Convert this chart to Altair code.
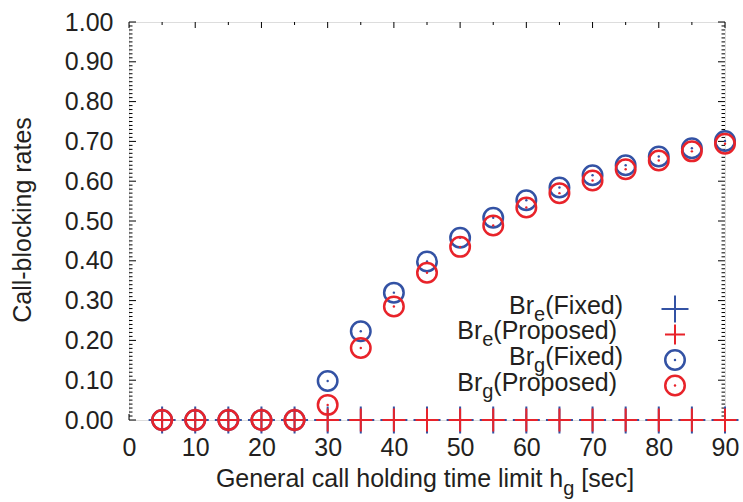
import altair as alt
import pandas as pd

# ---------------- data ----------------
hold_limit = [5, 10, 15, 20, 25, 30, 35, 40, 45, 50, 55, 60, 65, 70, 75, 80, 85, 90]
br_e_fixed = [0.00, 0.00, 0.00, 0.00, 0.00, 0.00, 0.00, 0.00, 0.00,
              0.00, 0.00, 0.00, 0.00, 0.00, 0.00, 0.00, 0.00, 0.00]
br_e_proposed = [0.00, 0.00, 0.00, 0.00, 0.00, 0.00, 0.00, 0.00, 0.00,
                 0.00, 0.00, 0.00, 0.00, 0.00, 0.00, 0.00, 0.00, 0.00]
br_g_fixed = [0.00, 0.00, 0.00, 0.00, 0.00, 0.098, 0.223, 0.320, 0.398,
              0.458, 0.508, 0.552, 0.584, 0.615, 0.640, 0.662, 0.683, 0.701]
br_g_proposed = [0.00, 0.00, 0.00, 0.00, 0.00, 0.038, 0.181, 0.285, 0.370,
                 0.435, 0.489, 0.534, 0.570, 0.602, 0.630, 0.652, 0.675, 0.694]

x_major_ticks = [0, 10, 20, 30, 40, 50, 60, 70, 80, 90]
x_minor_ticks = [5, 15, 25, 35, 45, 55, 65, 75, 85]
y_major_ticks = [0.0, 0.1, 0.2, 0.3, 0.4, 0.5, 0.6, 0.7, 0.8, 0.9, 1.0]
y_minor_ticks = [round(i / 100, 2) for i in range(1, 100) if i % 10 != 0]

legend_main = ["Br", "Br", "Br", "Br"]
legend_sub = ["e", "e", "g", "g"]
legend_rest = ["(Fixed)", "(Proposed)", "(Fixed)", "(Proposed)"]

# ---------------- style ----------------
BLUE = "#3352a4"
RED = "#e8232a"
TXT = "#231f20"
FONT = "Liberation Sans"
FS = 25
FS_SUB = 20
W, H = 596, 398
PLUS = "M-1,0L1,0M0,-1L0,1"

AW = {'B': 667, 'r': 333, 'e': 556, '(': 333, 'F': 611, 'i': 222, 'x': 500, 'd': 556,
      ')': 333, 'P': 667, 'o': 556, 'p': 556, 's': 500, '[': 278, ']': 278, 'c': 500,
      'g': 556, 'G': 778, 'n': 556, 'a': 556, 'l': 222, ' ': 278, 'h': 556, 't': 278,
      'm': 833}


def tw(s, size):
    return sum(AW[c] for c in s) * size / 1000.0


df = pd.DataFrame({"x": hold_limit, "bef": br_e_fixed, "bep": br_e_proposed,
                   "bgf": br_g_fixed, "bgp": br_g_proposed})

xs = alt.Scale(domain=[0, 90], nice=False, zero=False)
ys = alt.Scale(domain=[0, 1], nice=False, zero=False)

AX_X = alt.Axis(values=x_major_ticks, title="", ticks=False, domain=False, grid=False,
                labelPadding=15, labelFontSize=FS, labelFont=FONT, labelColor=TXT,
                labelFlush=False, labelOverlap=False)
AX_Y = alt.Axis(values=y_major_ticks, format=".2f", title="", ticks=False, domain=False,
                grid=False, labelPadding=16, labelFontSize=FS, labelFont=FONT,
                labelColor=TXT, labelFlush=False, labelOverlap=False)

X = alt.X("x:Q", scale=xs, axis=AX_X)


def pts(field, color, **kw):
    return alt.Chart(df).mark_point(color=color, **kw).encode(
        x=X, y=alt.Y(f"{field}:Q", scale=ys, axis=AX_Y))


xmaj = pd.DataFrame({"v": x_major_ticks})
xmin = pd.DataFrame({"v": x_minor_ticks})
ymaj = pd.DataFrame({"v": y_major_ticks})
ymin = pd.DataFrame({"v": y_minor_ticks})


def xt(d, ln):
    base = alt.Chart(d).mark_rule(color="#000", strokeWidth=1)
    xx = alt.X("v:Q", scale=xs, axis=AX_X)
    return (base.encode(x=xx, y=alt.value(H), y2=alt.value(H - ln)) +
            base.encode(x=xx, y=alt.value(0), y2=alt.value(ln)))


def yt(d, ln):
    base = alt.Chart(d).mark_rule(color="#000", strokeWidth=1)
    yy = alt.Y("v:Q", scale=ys, axis=AX_Y)
    return (base.encode(y=yy, x=alt.value(0), x2=alt.value(ln)) +
            base.encode(y=yy, x=alt.value(W), x2=alt.value(W - ln)))


ticks = xt(xmaj, 6) + xt(xmin, 3) + yt(ymaj, 7) + yt(ymin, 3.5)

# data markers
m_bef = pts("bef", BLUE, shape=PLUS, size=729, strokeWidth=2, filled=False, opacity=1)
m_bep = pts("bep", RED, shape=PLUS, size=529, strokeWidth=2, filled=False, opacity=1)
m_bgf = pts("bgf", BLUE, shape="circle", size=380, strokeWidth=2.5, filled=False, opacity=1)
d_bgf = pts("bgf", BLUE, shape="circle", size=6, filled=True, opacity=1)
m_bgp = pts("bgp", RED, shape="circle", size=380, strokeWidth=2.5, filled=False, opacity=1)
d_bgp = pts("bgp", RED, shape="circle", size=6, filled=True, opacity=1)

# ---------------- legend (manual, with subscripts) ----------------
right_edges = [494, 488, 494, 488]
baselines = [291.5, 317.2, 342.9, 368.6]
seg_rows = []
for i in range(4):
    w_main = tw(legend_main[i], FS)
    w_sub = tw(legend_sub[i], FS_SUB)
    w_rest = tw(legend_rest[i], FS)
    x0 = right_edges[i] - (w_main + w_sub + w_rest)
    seg_rows.append({"t": legend_main[i], "px": x0, "py": baselines[i], "fs": FS})
    seg_rows.append({"t": legend_sub[i], "px": x0 + w_main, "py": baselines[i] + 7, "fs": FS_SUB})
    seg_rows.append({"t": legend_rest[i], "px": x0 + w_main + w_sub, "py": baselines[i], "fs": FS})

# x title (with subscript)
xt_main = "General call holding time limit h"
xt_sub = "g"
xt_rest = "[sec]"
gap = tw(" ", FS)
tot = tw(xt_main, FS) + tw(xt_sub, FS_SUB) + gap + tw(xt_rest, FS)
x0 = 296 - tot / 2
xbl = 464.5
seg_rows.append({"t": xt_main, "px": x0, "py": xbl, "fs": FS})
seg_rows.append({"t": xt_sub, "px": x0 + tw(xt_main, FS), "py": xbl + 8, "fs": FS_SUB})
seg_rows.append({"t": xt_rest, "px": x0 + tw(xt_main, FS) + tw(xt_sub, FS_SUB) + gap,
                 "py": xbl, "fs": FS})

segs = pd.DataFrame(seg_rows)
texts = alt.Chart(segs).mark_text(align="left", baseline="alphabetic", font=FONT,
                                  color=TXT).encode(
    x=alt.X("px:Q", scale=None), y=alt.Y("py:Q", scale=None),
    text="t:N", size=alt.Size("fs:Q", scale=None, legend=None))

ytitle = alt.Chart(pd.DataFrame({"t": ["Call-blocking rates"]})).mark_text(
    angle=270, align="center", baseline="middle", font=FONT, fontSize=FS, color=TXT).encode(
    x=alt.value(-106), y=alt.value(198), text="t:N")

# legend symbols
sym_x = 546
sym_y = [287, 312.5, 338, 363.5]
leg_df = pd.DataFrame({"sx": [sym_x], "y0": [sym_y[0]], "y1": [sym_y[1]],
                       "y2": [sym_y[2]], "y3": [sym_y[3]]})


def lsym(yf, color, **kw):
    return alt.Chart(leg_df).mark_point(color=color, **kw).encode(
        x=alt.X("sx:Q", scale=None), y=alt.Y(f"{yf}:Q", scale=None))


leg = (lsym("y0", BLUE, shape=PLUS, size=729, strokeWidth=2, filled=False, opacity=1) +
       lsym("y1", RED, shape=PLUS, size=400, strokeWidth=2, filled=False, opacity=1) +
       lsym("y2", BLUE, shape="circle", size=380, strokeWidth=2.5, filled=False, opacity=1) +
       lsym("y2", BLUE, shape="circle", size=6, filled=True, opacity=1) +
       lsym("y3", RED, shape="circle", size=380, strokeWidth=2.5, filled=False, opacity=1) +
       lsym("y3", RED, shape="circle", size=6, filled=True, opacity=1))

chart = alt.layer(
    ticks, m_bef, m_bep, m_bgf, d_bgf, m_bgp, d_bgp, texts, ytitle, leg
).properties(
    width=W, height=H,
    autosize=alt.AutoSizeParams(type="none"),
    padding={"left": 129, "top": 22, "right": 18, "bottom": 82},
).configure_view(stroke="#000", strokeWidth=1.3).configure(background="white")

chart.save("out.html", embed_options={"renderer": "svg", "actions": False})
